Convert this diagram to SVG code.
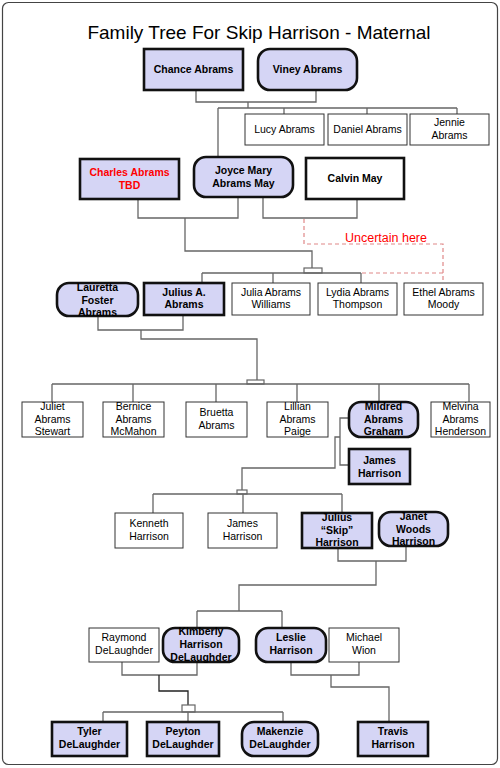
<svg xmlns="http://www.w3.org/2000/svg" width="500" height="768" viewBox="0 0 500 768">
<style>
.pg{fill:#fff;stroke:#444;stroke-width:1.2}
.title{font-family:"Liberation Sans",Arial,sans-serif;font-size:19px;fill:#000;text-anchor:middle}
.k{fill:#d5d5f5;stroke:#111;stroke-width:2.6}
.kw{fill:#fff;stroke:#111;stroke-width:2.6}
.w{fill:#fff;stroke:#333;stroke-width:1}
.t{font-family:"Liberation Sans",Arial,sans-serif;font-size:10.5px;fill:#000;text-anchor:middle}
.b{font-weight:bold}
.red{fill:#ff0000}
.c{fill:none;stroke:#666;stroke-width:1.3}
.cd{fill:none;stroke:#222;stroke-width:1.3}
.sb{fill:#fff;stroke:#666;stroke-width:1.2}
.dash{fill:none;stroke:#e08888;stroke-width:1.2;stroke-dasharray:4 3}
.unc{font-family:"Liberation Sans",Arial,sans-serif;font-size:12.5px;fill:#ff0000;text-anchor:middle}
</style>
<rect class="pg" x="2.5" y="2.5" width="495" height="762" rx="6"/>
<text class="title" x="259" y="39">Family Tree For Skip Harrison - Maternal</text>

<g id="connectors">
<path class="c" d="M196,90 V102 H316 V90"/>
<path class="c" d="M248,102 V108"/>
<path class="c" d="M218,108 H457 M218,108 V157 M284,108 V114 M367,108 V114 M457,108 V114"/>
<path class="c" d="M138,199 V218 H238 V197"/>
<path class="c" d="M185,218 V251 H312 V268"/>
<rect class="sb" x="304" y="268" width="18" height="5"/>
<path class="c" d="M202,273 H361 M202,273 V283 M273,273 V283 M361,273 V283"/>
<path class="c" d="M263,197 V218 H357 V199"/>
<path class="dash" d="M304,219 V244 H443 V283 M362,273 H443"/>
<path class="c" d="M98,316 V330 H183 V315"/>
<path class="c" d="M141,330 V339 H257 V380"/>
<rect class="sb" x="247" y="380" width="17" height="4"/>
<path class="c" d="M52,384 H469 M52,384 V402 M133,384 V402 M216,384 V402 M297,384 V402 M379,384 V402 M469,384 V402"/>
<path class="c" d="M349,418 H340 V465 H349"/>
<path class="c" d="M340,437 H335 V468 H242 V490"/>
<rect class="sb" x="237" y="490" width="10" height="4"/>
<path class="c" d="M153,494 H342 M153,494 V513 M243,494 V513 M342,494 V513"/>
<path class="c" d="M338,548 V561 H406 V546"/>
<path class="c" d="M376,561 V585 H239 V611"/>
<path class="c" d="M197,611 H282 M197,611 V628 M282,611 V628"/>
<path class="c" d="M122,662 V675 H197 V662"/>
<path class="cd" d="M159,675 V691 H188 V705"/>
<rect class="sb" x="182" y="705" width="13" height="7"/>
<path class="c" d="M103,712 H283 M103,712 V722 M188,712 V722 M283,712 V722"/>
<path class="c" d="M291,662 V675 H359 V662"/>
<path class="c" d="M331,675 V687 H389 V722"/>
<text class="unc" x="386" y="242">Uncertain here</text>
</g>

<g id="chance"><rect class="k" x="144" y="49" width="99" height="41"/><text class="t b" x="193.5" y="73">Chance Abrams</text></g>
<g id="viney"><rect class="k" x="258" y="49" width="99" height="41" rx="12"/><text class="t b" x="307.5" y="73">Viney Abrams</text></g>
<g id="lucy"><rect class="w" x="245" y="114" width="79" height="31"/><text class="t" x="284.5" y="133">Lucy Abrams</text></g>
<g id="daniel"><rect class="w" x="328" y="114" width="79" height="31"/><text class="t" x="367.5" y="133">Daniel Abrams</text></g>
<g id="jennie"><rect class="w" x="410" y="114" width="79" height="31"/><text class="t" x="449.5" y="126">Jennie</text><text class="t" x="449.5" y="139">Abrams</text></g>

<g id="charles"><rect class="k" x="80" y="159" width="99" height="40"/><text class="t b red" x="129.5" y="176">Charles Abrams</text><text class="t b red" x="129.5" y="189">TBD</text></g>
<g id="joyce"><rect class="k" x="194" y="157" width="99" height="40" rx="12"/><text class="t b" x="243.5" y="174">Joyce Mary</text><text class="t b" x="243.5" y="187">Abrams May</text></g>
<g id="calvin"><rect class="kw" x="306" y="158" width="98" height="41"/><text class="t b" x="355" y="182">Calvin May</text></g>

<g id="lauretta"><rect class="k" x="57" y="283" width="81" height="33" rx="12"/><text class="t b" x="97.5" y="291">Lauretta</text><text class="t b" x="97.5" y="303.5">Foster</text><text class="t b" x="97.5" y="316">Abrams</text></g>
<g id="juliusa"><rect class="k" x="144" y="283" width="80" height="32"/><text class="t b" x="184" y="296">Julius A.</text><text class="t b" x="184" y="308">Abrams</text></g>
<g id="julia"><rect class="w" x="232" y="283" width="78" height="32"/><text class="t" x="271" y="296">Julia Abrams</text><text class="t" x="271" y="308">Williams</text></g>
<g id="lydia"><rect class="w" x="318" y="283" width="79" height="32"/><text class="t" x="357.5" y="296">Lydia Abrams</text><text class="t" x="357.5" y="308">Thompson</text></g>
<g id="ethel"><rect class="w" x="404" y="283" width="79" height="32"/><text class="t" x="443.5" y="296">Ethel  Abrams</text><text class="t" x="443.5" y="308">Moody</text></g>

<g id="juliet"><rect class="w" x="22" y="402" width="61" height="35"/><text class="t" x="52.5" y="410">Juliet</text><text class="t" x="52.5" y="423">Abrams</text><text class="t" x="52.5" y="435">Stewart</text></g>
<g id="bernice"><rect class="w" x="103" y="402" width="61" height="35"/><text class="t" x="133.5" y="410">Bernice</text><text class="t" x="133.5" y="423">Abrams</text><text class="t" x="133.5" y="435">McMahon</text></g>
<g id="bruetta"><rect class="w" x="186" y="402" width="61" height="35"/><text class="t" x="216.5" y="416">Bruetta</text><text class="t" x="216.5" y="429">Abrams</text></g>
<g id="lillian"><rect class="w" x="267" y="402" width="61" height="35"/><text class="t" x="297.5" y="410">Lillian</text><text class="t" x="297.5" y="423">Abrams</text><text class="t" x="297.5" y="435">Paige</text></g>
<g id="mildred"><rect class="k" x="349" y="402" width="69" height="35" rx="12"/><text class="t b" x="383.5" y="410">Mildred</text><text class="t b" x="383.5" y="423">Abrams</text><text class="t b" x="383.5" y="435">Graham</text></g>
<g id="melvina"><rect class="w" x="431" y="402" width="59" height="35"/><text class="t" x="460.5" y="410">Melvina</text><text class="t" x="460.5" y="423">Abrams</text><text class="t" x="460.5" y="435">Henderson</text></g>

<g id="jamesh"><rect class="k" x="349" y="449" width="61" height="35"/><text class="t b" x="379.5" y="464">James</text><text class="t b" x="379.5" y="477">Harrison</text></g>

<g id="kenneth"><rect class="w" x="115" y="513" width="68" height="35"/><text class="t" x="149" y="527">Kenneth</text><text class="t" x="149" y="540">Harrison</text></g>
<g id="james2"><rect class="w" x="208" y="513" width="69" height="35"/><text class="t" x="242.5" y="527">James</text><text class="t" x="242.5" y="540">Harrison</text></g>
<g id="skip"><rect class="k" x="302" y="513" width="70" height="35"/><text class="t b" x="337" y="521">Julius</text><text class="t b" x="337" y="534">“Skip”</text><text class="t b" x="337" y="546">Harrison</text></g>
<g id="janet"><rect class="k" x="379" y="512" width="69" height="34" rx="12"/><text class="t b" x="413.5" y="520">Janet</text><text class="t b" x="413.5" y="533">Woods</text><text class="t b" x="413.5" y="545">Harrison</text></g>

<g id="raymond"><rect class="w" x="89" y="628" width="70" height="34"/><text class="t" x="124" y="641">Raymond</text><text class="t" x="124" y="654">DeLaughder</text></g>
<g id="kimberly"><rect class="k" x="163" y="628" width="76" height="34" rx="12"/><text class="t b" x="201" y="635">Kimberly</text><text class="t b" x="201" y="648">Harrison</text><text class="t b" x="201" y="661">DeLaughder</text></g>
<g id="leslie"><rect class="k" x="256" y="628" width="70" height="34" rx="12"/><text class="t b" x="291" y="641">Leslie</text><text class="t b" x="291" y="654">Harrison</text></g>
<g id="michael"><rect class="w" x="329" y="628" width="70" height="34"/><text class="t" x="364" y="641">Michael</text><text class="t" x="364" y="654">Wion</text></g>

<g id="tyler"><rect class="k" x="52" y="722" width="75" height="34"/><text class="t b" x="89.5" y="735">Tyler</text><text class="t b" x="89.5" y="748">DeLaughder</text></g>
<g id="peyton"><rect class="k" x="147" y="722" width="72" height="34"/><text class="t b" x="183" y="735">Peyton</text><text class="t b" x="183" y="748">DeLaughder</text></g>
<g id="makenzie"><rect class="k" x="242" y="722" width="76" height="34" rx="12"/><text class="t b" x="280" y="735">Makenzie</text><text class="t b" x="280" y="748">DeLaughder</text></g>
<g id="travis"><rect class="k" x="358" y="722" width="70" height="34"/><text class="t b" x="393" y="735">Travis</text><text class="t b" x="393" y="748">Harrison</text></g>
</svg>
